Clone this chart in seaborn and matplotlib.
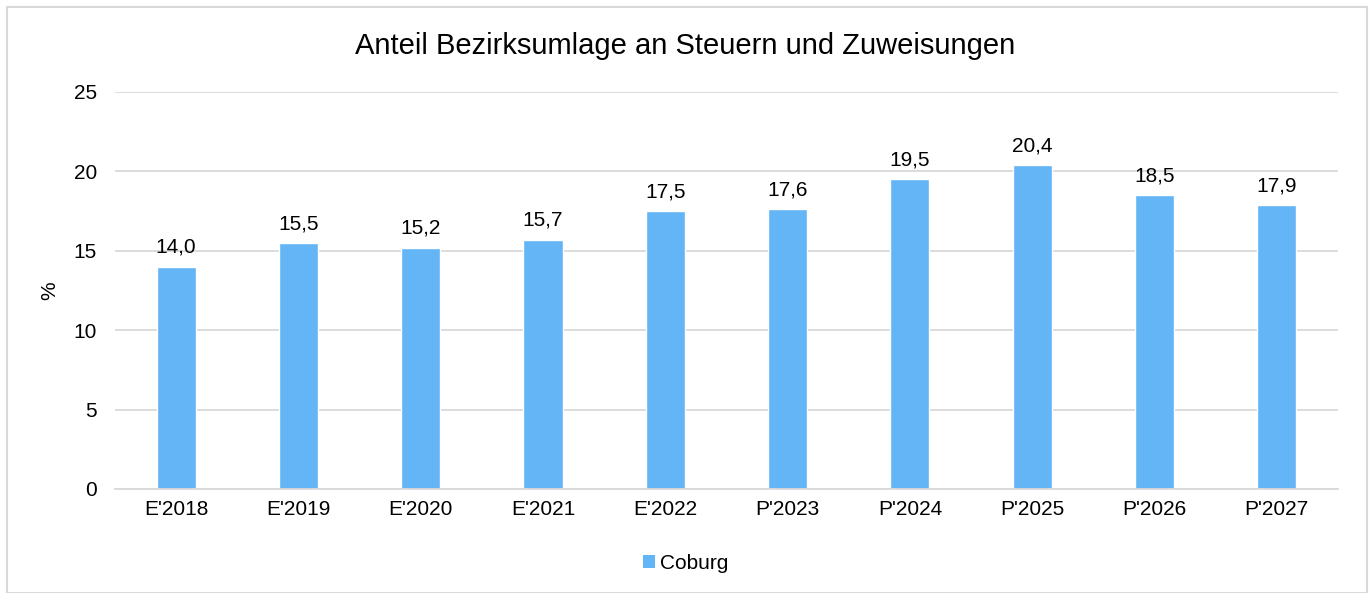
import matplotlib
matplotlib.use("Agg")
import matplotlib.pyplot as plt
import seaborn as sns
import pandas as pd
from matplotlib.patches import Rectangle, Patch

categories = ["E'2018", "E'2019", "E'2020", "E'2021", "E'2022", "P'2023", "P'2024", "P'2025", "P'2026", "P'2027"]
values = [14.0, 15.5, 15.2, 15.7, 17.5, 17.6, 19.5, 20.4, 18.5, 17.9]
series_name = "Coburg"
title = "Anteil Bezirksumlage an Steuern und Zuweisungen"
y_label = "%"
y_ticks = [0, 5, 10, 15, 20, 25]

sns.set_theme(style="white")
plt.rcParams['font.family'] = ['Liberation Sans', 'DejaVu Sans']
plt.rcParams['text.color'] = 'black'
plt.rcParams['axes.labelcolor'] = 'black'

color = "#64B5F6"
df = pd.DataFrame({"cat": categories, "val": values, "series": series_name})

fig = plt.figure(figsize=(13.71, 5.93), dpi=100)
ax = fig.add_axes([0.0839, 0.1754, 0.892, 0.6695])
sns.barplot(data=df, x="cat", y="val", color=color, width=0.32, ax=ax, saturation=1)

ax.set_ylim(0, 25)
ax.set_yticks(y_ticks)
ax.set_xlim(-0.5, len(categories) - 0.5)
ax.yaxis.grid(True, color="#D9D9D9", linewidth=1.3)
ax.set_axisbelow(True)
for s in ["top", "right", "left"]:
    ax.spines[s].set_visible(False)
ax.spines["bottom"].set_color("#D9D9D9")
ax.spines["bottom"].set_linewidth(1.3)
ax.tick_params(axis="x", length=0, labelsize=15, colors="black", pad=8)
ax.tick_params(axis="y", length=0, labelsize=15, colors="black", pad=13)
ax.set_xlabel("")
ax.set_ylabel(y_label, fontsize=15, labelpad=10, color="black")

for i, v in enumerate(values):
    ax.annotate(f"{v:.1f}".replace(".", ","), (i, v), xytext=(0, 7),
                textcoords="offset points", ha="center", va="bottom", fontsize=15, color="black")

fig.text(0.5, 0.922, title, ha="center", va="center", fontsize=21, color="black")

handles = [Patch(facecolor=color, edgecolor="none", label=series_name)]
fig.legend(handles=handles, loc="center", bbox_to_anchor=(0.5, 0.05), frameon=False,
           fontsize=15, handlelength=0.6, handleheight=0.6, handletextpad=0.2)

fig.patches.append(Rectangle((7 / 1371, 0.0), 1360 / 1371, 1 - 7 / 593, transform=fig.transFigure,
                             fill=False, edgecolor="#D9D9D9", linewidth=1.5))

fig.savefig("out.png", dpi=100)
